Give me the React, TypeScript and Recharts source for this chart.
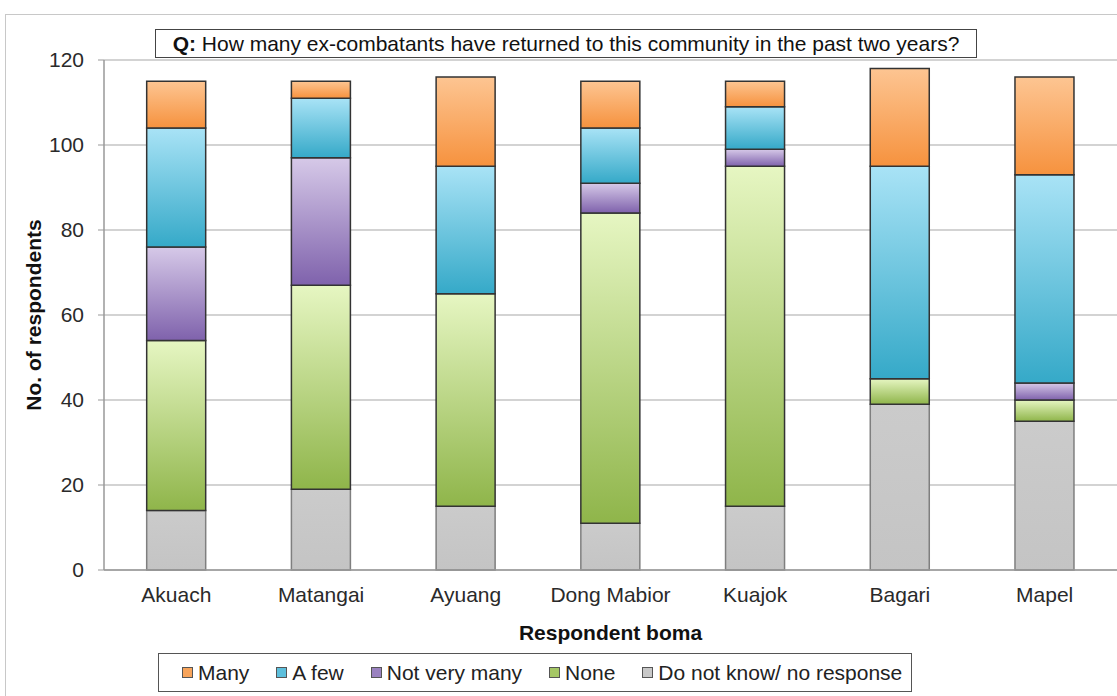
import { BarChart, Bar, XAxis, YAxis, CartesianGrid, Legend } from 'recharts';

const bomas = ['Akuach', 'Matangai', 'Ayuang', 'Dong Mabior', 'Kuajok', 'Bagari', 'Mapel'];
const dontKnow = [14, 19, 15, 11, 15, 39, 35];
const none = [40, 48, 50, 73, 80, 6, 5];
const notVeryMany = [22, 30, 0, 7, 4, 0, 4];
const aFew = [28, 14, 30, 13, 10, 50, 49];
const many = [11, 4, 21, 11, 6, 23, 23];
const yTicks = [0, 20, 40, 60, 80, 100, 120];

const series = [
  { key: 'dontKnow', name: 'Do not know/ no response', top: '#cbcbcb', bottom: '#c4c4c4', stroke: '#7f7f7f', swatch: '#c8c8c8' },
  { key: 'none', name: 'None', top: '#e6f6c2', bottom: '#8fb54a', stroke: '#333333', swatch: '#a5c765' },
  { key: 'notVeryMany', name: 'Not very many', top: '#d6c9e8', bottom: '#7f62ac', stroke: '#333333', swatch: '#9a82c0' },
  { key: 'aFew', name: 'A few', top: '#a9e3f6', bottom: '#35a9c8', stroke: '#333333', swatch: '#5dbfdc' },
  { key: 'many', name: 'Many', top: '#fdc592', bottom: '#f6923e', stroke: '#333333', swatch: '#f8a45a' },
];

const data = bomas.map((b, i) => ({
  boma: b,
  dontKnow: dontKnow[i],
  none: none[i],
  notVeryMany: notVeryMany[i],
  aFew: aFew[i],
  many: many[i],
}));

const font = '"Liberation Sans", Arial, sans-serif';

function LegendBox() {
  const items = [...series].reverse();
  return (
    <div style={{
      border: '1.5px solid #555', background: '#fff', width: 754, height: 39,
      display: 'flex', alignItems: 'center', paddingLeft: 23, gap: 27,
      fontFamily: font, fontSize: 21, color: '#222', boxSizing: 'border-box',
    }}>
      {items.map(s => (
        <span key={s.key} style={{ display: 'flex', alignItems: 'center' }}>
          <span style={{ width: 9, height: 9, background: s.swatch, border: '1px solid #555', marginRight: 5 }} />
          {s.name}
        </span>
      ))}
    </div>
  );
}

export default function App() {
  return (
    <div style={{ position: 'absolute', left: 0, top: 0, width: 1117, height: 696, background: '#fff', fontFamily: font, overflow: 'hidden' }}>
      <div style={{ position: 'absolute', left: 5, top: 14, width: 1120, height: 690, borderTop: '1.5px solid #c8c8c8', borderLeft: '1.5px solid #c8c8c8' }} />
      <BarChart
        width={1117}
        height={696}
        data={data}
        margin={{ top: 60, right: 0, bottom: 57, left: 44 }}
        barCategoryGap="29.5%"
      >
        <defs>
          {series.map(s => (
            <linearGradient key={s.key} id={`g-${s.key}`} x1="0" y1="0" x2="0" y2="1">
              <stop offset="0%" stopColor={s.top} />
              <stop offset="100%" stopColor={s.bottom} />
            </linearGradient>
          ))}
        </defs>
        <CartesianGrid vertical={false} stroke="#c4c4c4" strokeWidth={1.5} />
        <XAxis
          dataKey="boma"
          tickLine={false}
          axisLine={{ stroke: '#999', strokeWidth: 1.5 }}
          tick={{ fill: '#2a2a2a', fontSize: 21, fontFamily: font }}
          tickMargin={11}
          label={{ value: 'Respondent boma', position: 'insideBottom', offset: -40, fill: '#111', fontSize: 21, fontWeight: 'bold', fontFamily: font }}
        />
        <YAxis
          domain={[0, 120]}
          ticks={yTicks}
          width={60}
          tickLine={{ stroke: '#999' }}
          tickSize={6}
          tickMargin={14}
          axisLine={{ stroke: '#999', strokeWidth: 1.5 }}
          tick={{ fill: '#2a2a2a', fontSize: 21, fontFamily: font }}
          label={{ value: 'No. of respondents', angle: -90, position: 'insideLeft', offset: -10, style: { textAnchor: 'middle' }, fill: '#111', fontSize: 21, fontWeight: 'bold', fontFamily: font }}
        />
        <Legend
          verticalAlign="bottom"
          wrapperStyle={{ left: 158, bottom: 4, width: 754 }}
          content={() => <LegendBox />}
        />
        {series.map(s => (
          <Bar
            key={s.key}
            dataKey={s.key}
            name={s.name}
            stackId="a"
            fill={`url(#g-${s.key})`}
            stroke={s.stroke}
            strokeWidth={1.5}
            isAnimationActive={false}
          />
        ))}
      </BarChart>
      <div style={{
        position: 'absolute', left: 155, top: 29, width: 822, height: 29, border: '1.5px solid #444',
        background: '#fff', boxSizing: 'border-box', fontSize: 21, color: '#111',
        display: 'flex', alignItems: 'center', justifyContent: 'center', whiteSpace: 'nowrap',
      }}>
        <b>Q:</b>&nbsp;How many ex-combatants have returned to this community in the past two years?
      </div>
    </div>
  );
}
